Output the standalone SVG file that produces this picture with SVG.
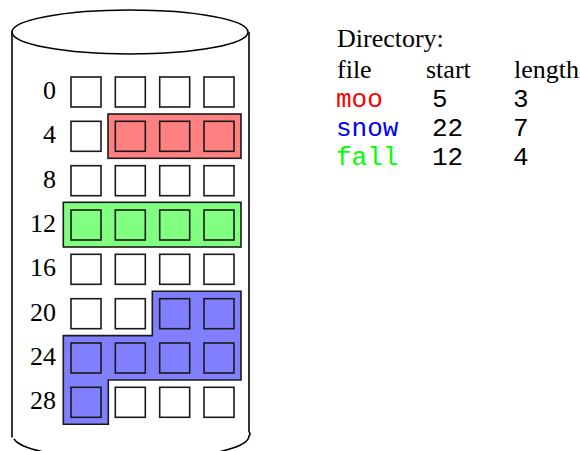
<svg xmlns="http://www.w3.org/2000/svg" width="580" height="451" viewBox="0 0 580 451">
  <style>
    .ext { stroke: #1a1a1a; stroke-width: 1.6; }
    .disk { fill: none; stroke: #000; stroke-width: 1.6; }
    .free { fill: #fff; }
    .moo { fill: #ff8080; }
    .fall { fill: #80ff80; }
    .snow { fill: #8080ff; }
    .num { font-family: "Liberation Serif", "Times New Roman", serif; font-size: 26px; fill: #000; text-anchor: end; }
    .hdr { font-family: "Liberation Serif", "Times New Roman", serif; font-size: 26px; fill: #000; }
    .mono { font-family: "Liberation Mono", "Courier New", monospace; font-size: 26px; fill: #000; }
  </style>
  <defs>
    <!-- one disk block; fill comes from the <use> -->
    <rect id="blk" width="30" height="30" stroke="#1a1a1a" stroke-width="1.6"/>
  </defs>

  <!-- disk cylinder -->
  <g id="disk">
    <ellipse cx="130" cy="32" rx="118" ry="22" class="disk"/>
    <line x1="12" y1="32" x2="12" y2="437.5" class="disk"/>
    <line x1="249" y1="32" x2="249" y2="432" class="disk"/>
    <path d="M14 439 A118 24 0 0 0 249 436 Q251 434 249 432" class="disk"/>
  </g>

  <!-- file extents -->
  <g id="extent-moo">
    <rect x="108" y="114" width="133" height="44.3" class="ext moo"/>
  </g>
  <g id="extent-fall">
    <rect x="63.3" y="202.3" width="177.7" height="44.7" class="ext fall"/>
  </g>
  <g id="extent-snow">
    <path d="M152.3 291.3 H241 V380 H108.3 V424.3 H63.3 V335.6 H152.3 Z" class="ext snow"/>
  </g>

  <!-- block grid: 8 rows of 4 blocks -->
  <g id="blocks">
    <g id="row0">
      <text x="56" y="99" class="num">0</text>
      <use href="#blk" x="71" y="77" class="free"/><use href="#blk" x="115.3" y="77" class="free"/><use href="#blk" x="159.7" y="77" class="free"/><use href="#blk" x="204" y="77" class="free"/>
    </g>
    <g id="row4">
      <text x="56" y="143.3" class="num">4</text>
      <use href="#blk" x="71" y="121.3" class="free"/>
      <use href="#blk" x="115.3" y="121.3" class="moo"/><use href="#blk" x="159.7" y="121.3" class="moo"/><use href="#blk" x="204" y="121.3" class="moo"/>
    </g>
    <g id="row8">
      <text x="56" y="187.7" class="num">8</text>
      <use href="#blk" x="71" y="165.7" class="free"/><use href="#blk" x="115.3" y="165.7" class="free"/><use href="#blk" x="159.7" y="165.7" class="free"/><use href="#blk" x="204" y="165.7" class="free"/>
    </g>
    <g id="row12">
      <text x="56" y="232" class="num">12</text>
      <use href="#blk" x="71" y="210" class="fall"/><use href="#blk" x="115.3" y="210" class="fall"/><use href="#blk" x="159.7" y="210" class="fall"/><use href="#blk" x="204" y="210" class="fall"/>
    </g>
    <g id="row16">
      <text x="56" y="276.3" class="num">16</text>
      <use href="#blk" x="71" y="254.3" class="free"/><use href="#blk" x="115.3" y="254.3" class="free"/><use href="#blk" x="159.7" y="254.3" class="free"/><use href="#blk" x="204" y="254.3" class="free"/>
    </g>
    <g id="row20">
      <text x="56" y="320.7" class="num">20</text>
      <use href="#blk" x="71" y="298.7" class="free"/><use href="#blk" x="115.3" y="298.7" class="free"/>
      <use href="#blk" x="159.7" y="298.7" class="snow"/><use href="#blk" x="204" y="298.7" class="snow"/>
    </g>
    <g id="row24">
      <text x="56" y="365" class="num">24</text>
      <use href="#blk" x="71" y="343" class="snow"/><use href="#blk" x="115.3" y="343" class="snow"/><use href="#blk" x="159.7" y="343" class="snow"/><use href="#blk" x="204" y="343" class="snow"/>
    </g>
    <g id="row28">
      <text x="56" y="409.3" class="num">28</text>
      <use href="#blk" x="71" y="387.3" class="snow"/>
      <use href="#blk" x="115.3" y="387.3" class="free"/><use href="#blk" x="159.7" y="387.3" class="free"/><use href="#blk" x="204" y="387.3" class="free"/>
    </g>
  </g>

  <!-- directory table -->
  <g id="directory">
    <text x="337" y="47" class="hdr">Directory:</text>
    <text x="337" y="78" class="hdr">file</text>
    <text x="426" y="78" class="hdr">start</text>
    <text x="514" y="78" class="hdr">length</text>
    <text x="336" y="107" class="mono" style="fill:#ff0000">moo</text>
    <text x="432" y="107" class="mono">5</text>
    <text x="513" y="107" class="mono">3</text>
    <text x="336" y="136" class="mono" style="fill:#0000ff">snow</text>
    <text x="432" y="136" class="mono">22</text>
    <text x="513" y="136" class="mono">7</text>
    <text x="336" y="165" class="mono" style="fill:#00ff00">fall</text>
    <text x="432" y="165" class="mono">12</text>
    <text x="513" y="165" class="mono">4</text>
  </g>
</svg>
